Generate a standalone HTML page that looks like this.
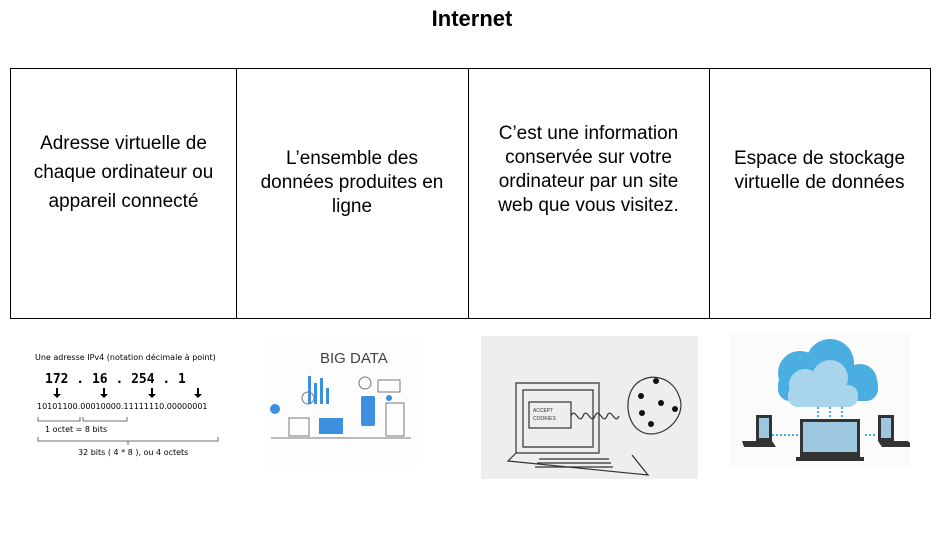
<!DOCTYPE html>
<html><head><meta charset="utf-8"><style>
body{margin:0;width:944px;height:538px;background:#fff;font-family:"Liberation Sans",Arial,sans-serif;position:relative;overflow:hidden}
.t{position:absolute;top:6px;left:0;width:944px;text-align:center;font-weight:bold;font-size:22px}
.c{position:absolute;top:68px;height:251px;border:1px solid #000;text-align:center;font-size:19px;line-height:24px;box-sizing:border-box}
.a{position:absolute}
</style></head><body>
<div class="t">Internet</div>
<div class="c" style="left:10px;width:227px;padding:60px 10px 0;line-height:29px">Adresse virtuelle de chaque ordinateur ou appareil connecté</div>
<div class="c" style="left:236px;width:233px;border-left:none;padding:78px 20px 0">L’ensemble des données produites en ligne</div>
<div class="c" style="left:468px;width:242px;border-left:none;padding:53px 18px 0">C’est une information conservée sur votre ordinateur par un site web que vous visitez.</div>
<div class="c" style="left:709px;width:222px;border-left:none;padding:78px 10px 0">Espace de stockage virtuelle de données</div>

<svg class="a" style="left:30px;top:345px" width="200" height="120" font-family="DejaVu Sans,sans-serif">
<text x="5" y="15" font-size="8">Une adresse IPv4 (notation décimale à point)</text>
<text x="15" y="38" font-size="13" font-weight="bold" font-family="DejaVu Sans Mono,monospace">172 . 16 . 254 . 1</text>
<g fill="#000"><path d="M26 43h2v6h3l-4 4-4-4h3z"/><path d="M73 43h2v6h3l-4 4-4-4h3z"/><path d="M121 43h2v6h3l-4 4-4-4h3z"/><path d="M167 43h2v6h3l-4 4-4-4h3z"/></g>
<text x="7" y="64" font-size="8">10101100.00010000.11111110.00000001</text>
<path d="M8 72v4h42v-4M53 72v4h44v-4M8 92v4h180v-4M98 96v4" stroke="#444" fill="none" stroke-width=".8"/>
<text x="15" y="87" font-size="8">1 octet  =   8 bits</text>
<text x="48" y="110" font-size="8">32 bits ( 4 * 8 ), ou 4 octets</text>
</svg>

<svg class="a" style="left:266px;top:338px" width="152" height="128">
<rect width="152" height="128" fill="#fdfdfd"/>
<text x="54" y="25" font-size="15" fill="#444" font-family="Liberation Sans,sans-serif">BIG DATA</text>
<g fill="#3d8fe0"><rect x="42" y="38" width="3" height="28"/><rect x="48" y="45" width="3" height="21"/><rect x="54" y="40" width="3" height="26"/><rect x="60" y="50" width="3" height="16"/><rect x="95" y="58" width="14" height="30" rx="2"/><circle cx="9" cy="71" r="5"/><rect x="53" y="80" width="24" height="16"/><circle cx="123" cy="60" r="3"/></g>
<g stroke="#777" fill="none"><circle cx="42" cy="60" r="6"/><circle cx="99" cy="45" r="6"/><rect x="120" y="65" width="18" height="33"/><rect x="112" y="42" width="22" height="12"/><line x1="5" y1="100" x2="145" y2="100"/><rect x="23" y="80" width="20" height="18"/></g>
</svg>

<svg class="a" style="left:481px;top:336px" width="217" height="143">
<rect width="217" height="143" fill="#eeeeee"/>
<g stroke="#333" fill="none" stroke-width="1.2">
<path d="M35 47h83v70H35z"/><path d="M42 54h70v57H42z"/><rect x="48" y="66" width="42" height="26"/>
<path d="M35 117l-8 8 140 14-16-20"/><path d="M58 123h70M56 127h74M54 131h78"/>
<path d="M90 80c4-10 8 10 12 0s8 10 12 0 8 10 12 0 8 10 12 0"/>
<path d="M150 55c10-20 40-18 48 5 8 18-10 38-28 38-20 0-28-25-20-43z"/>
</g>
<g fill="#111"><circle cx="175" cy="45" r="3"/><circle cx="160" cy="60" r="3"/><circle cx="180" cy="67" r="3"/><circle cx="161" cy="77" r="3"/><circle cx="170" cy="88" r="3"/><circle cx="194" cy="73" r="3"/></g>
<text x="52" y="76" font-size="5" fill="#333">ACCEPT</text><text x="52" y="84" font-size="5" fill="#333">COOKIES</text>
</svg>

<svg class="a" style="left:730px;top:333px" width="180" height="135">
<rect width="180" height="135" fill="#fbfbfc"/>
<g fill="#4aaee0"><circle cx="70" cy="40" r="22"/><circle cx="100" cy="30" r="24"/><circle cx="130" cy="48" r="17"/><rect x="48" y="40" width="100" height="28" rx="12"/></g>
<g fill="#a9d5ec"><circle cx="75" cy="52" r="16"/><circle cx="100" cy="45" r="18"/><rect x="58" y="52" width="70" height="22" rx="10"/></g>
<g stroke="#4aaee0" stroke-width="2" stroke-dasharray="2 2"><line x1="88" y1="74" x2="88" y2="88"/><line x1="100" y1="74" x2="100" y2="88"/><line x1="112" y1="74" x2="112" y2="88"/><line x1="38" y1="102" x2="70" y2="102"/><line x1="135" y1="102" x2="145" y2="102"/></g>
<g fill="#333"><rect x="70" y="86" width="60" height="38"/><rect x="26" y="82" width="16" height="26"/><rect x="148" y="82" width="16" height="26"/><path d="M12 108h30l4 6H14z"/><path d="M148 108h30l6 6h-32z"/><rect x="66" y="124" width="68" height="4"/></g>
<g fill="#9cc7de"><rect x="73" y="89" width="54" height="30"/><rect x="29" y="85" width="10" height="20"/><rect x="151" y="85" width="10" height="20"/></g>
</svg>
</body></html>
